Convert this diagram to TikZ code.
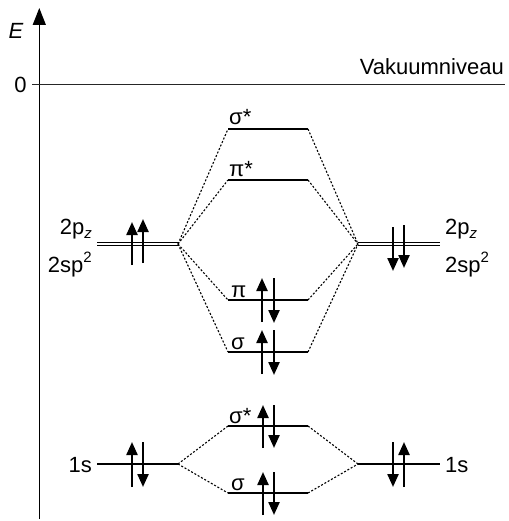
\documentclass[tikz,border=0pt]{standalone}
\usepackage{fontspec}
\setmainfont{Liberation Sans}
\usetikzlibrary{arrows.meta,calc}
\newcommand{\subz}{\raisebox{-0.22em}{\fontsize{15}{15}\selectfont\itshape z}}
\newcommand{\supt}{\raisebox{0.42em}{\fontsize{15}{15}\selectfont 2}}
\begin{document}
\begin{tikzpicture}[x=1pt,y=-1pt,
  lvl/.style={line width=1.3pt},
  dbl/.style={double, line width=0.9pt, double distance=2.2pt},
  conn/.style={dash pattern=on 2pt off 1.8pt, line width=1.1pt},
  elec/.style={line width=2.3pt, -{Triangle[length=13pt,width=11pt]}},
  lab/.style={font=\fontsize{22}{26}\selectfont, inner sep=0pt}
]
\useasboundingbox (0,0) rectangle (508,521);
% axis
\coordinate (ax0) at (39.3,519);
\coordinate (ax1) at (39.3,8);
\draw[line width=1.4pt, -{Triangle[length=17pt,width=13pt]}] (ax0) -- (ax1);
\node[lab, font=\fontsize{22}{26}\selectfont\itshape] (E) at (16,31) {E};
\node[lab] (zero) at (20.5,85) {0};
% vacuum level
\coordinate (v0) at (32,85);
\coordinate (v1) at (505,85);
\draw[line width=1pt, black!85] (v0) -- (v1);
\node[lab, anchor=base east] (vak) at (504,75) {Vakuumniveau};
% atomic levels
\coordinate (L2a) at (97,244);  \coordinate (L2b) at (178,244);
\coordinate (R2a) at (358,244); \coordinate (R2b) at (440,244);
\coordinate (L1a) at (97,464);  \coordinate (L1b) at (178,464);
\coordinate (R1a) at (358,464); \coordinate (R1b) at (440,464);
\draw[dbl] (L2a) -- (L2b);
\draw[dbl] (R2a) -- (R2b);
\draw[lvl] (L1a) -- (L1b);
\draw[lvl] (R1a) -- (R1b);
% molecular levels
\coordinate (As) at (228,129); \coordinate (Bs) at (308,129);
\coordinate (Ap) at (228,180); \coordinate (Bp) at (308,180);
\coordinate (Cp) at (228,300); \coordinate (Dp) at (308,300);
\coordinate (Cs) at (228,352); \coordinate (Ds) at (308,352);
\coordinate (Es) at (228,426); \coordinate (Fs) at (308,426);
\coordinate (Gs) at (228,493); \coordinate (Hs) at (308,493);
\foreach \a/\b in {As/Bs,Ap/Bp,Cp/Dp,Cs/Ds,Es/Fs,Gs/Hs}
  \draw[lvl] (\a) -- (\b);
% connectors
\foreach \a in {As,Ap,Cp,Cs} \draw[conn] (L2b) -- (\a);
\foreach \b in {Bs,Bp,Dp,Ds} \draw[conn] (\b) -- (R2a);
\foreach \a in {Es,Gs} \draw[conn] (L1b) -- (\a);
\foreach \b in {Fs,Hs} \draw[conn] (\b) -- (R1a);
% labels
\node[lab, anchor=base west] (ls1) at (229,125) {σ*};
\node[lab, anchor=base west] (lp1) at (229,177) {π*};
\node[lab, anchor=base west] (lp2) at (231,297) {π};
\node[lab, anchor=base west] (ls2) at (231,349) {σ};
\node[lab, anchor=base west] (ls3) at (229,423) {σ*};
\node[lab, anchor=base west] (ls4) at (231,490) {σ};
\node[lab, anchor=base east] (lL2p) at (92,234) {2p\subz};
\node[lab, anchor=base east] (lL2s) at (92,272) {2sp\supt};
\node[lab, anchor=base west] (lR2p) at (445,234) {2p\subz};
\node[lab, anchor=base west] (lR2s) at (445,272) {2sp\supt};
\node[lab, anchor=base east] (lL1) at (92,472) {1s};
\node[lab, anchor=base west] (lR1) at (445,472) {1s};
% electrons
\draw[elec] ($(L2a)+(35,21)$) -- ($(L2a)+(35,-22)$);
\draw[elec] ($(L2a)+(46,19)$) -- ($(L2a)+(46,-25)$);
\draw[elec] ($(R2a)+(35,-17)$) -- ($(R2a)+(35,27)$);
\draw[elec] ($(R2a)+(46,-19)$) -- ($(R2a)+(46,24)$);
\draw[elec] ($(Cp)+(34,22)$) -- ($(Cp)+(34,-22)$);
\draw[elec] ($(Cp)+(46,-22)$) -- ($(Cp)+(46,23)$);
\draw[elec] ($(Cs)+(34,22)$) -- ($(Cs)+(34,-22)$);
\draw[elec] ($(Cs)+(46,-22)$) -- ($(Cs)+(46,23)$);
\draw[elec] ($(Es)+(35,22)$) -- ($(Es)+(35,-21)$);
\draw[elec] ($(Es)+(46,-21)$) -- ($(Es)+(46,22)$);
\draw[elec] ($(Gs)+(35,22)$) -- ($(Gs)+(35,-21)$);
\draw[elec] ($(Gs)+(46,-21)$) -- ($(Gs)+(46,22)$);
\draw[elec] ($(L1a)+(35,23)$) -- ($(L1a)+(35,-22)$);
\draw[elec] ($(L1a)+(46,-22)$) -- ($(L1a)+(46,23)$);
\draw[elec] ($(R1a)+(35,-22)$) -- ($(R1a)+(35,23)$);
\draw[elec] ($(R1a)+(46,23)$) -- ($(R1a)+(46,-22)$);
\end{tikzpicture}
\end{document}
